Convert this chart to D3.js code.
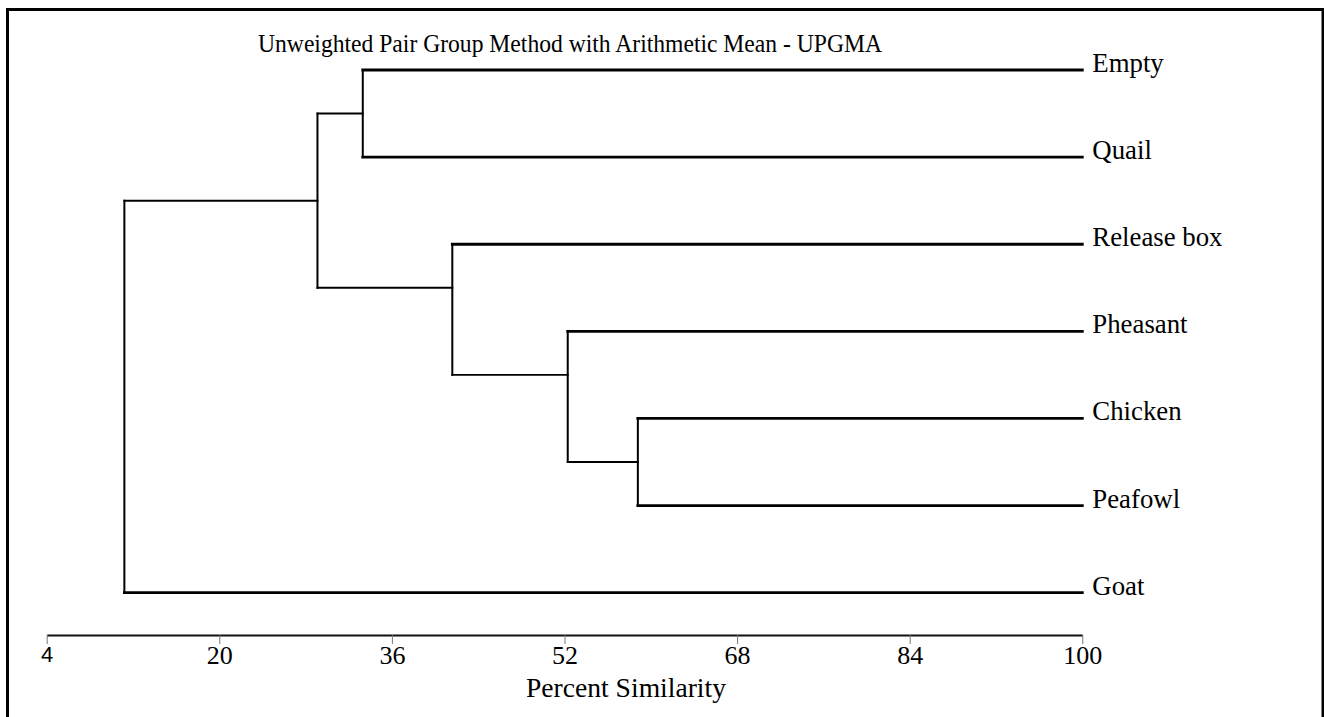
<!DOCTYPE html>
<html><head><meta charset="utf-8">
<script src="https://cdn.jsdelivr.net/npm/d3@7"></script>
<style>body{margin:0;background:#fff;overflow:hidden}</style>
</head><body>
<svg id="chart" width="1324" height="717"></svg>
<script>
// ---- data ----
const leafNames = ["Empty", "Quail", "Release box", "Pheasant", "Chicken", "Peafowl", "Goat"];
const leafSimilarity = 100;
const clusterIds = ["EQ", "CP", "PCP", "RPCP", "EQRPCP", "ALL"];
const clusterChildren = [["Empty", "Quail"], ["Chicken", "Peafowl"], ["Pheasant", "CP"], ["Release box", "PCP"], ["EQ", "RPCP"], ["EQRPCP", "Goat"]];
const clusterSimilarity = [33.3, 58.8, 52.3, 41.6, 29.1, 11.2];
const clusterJoinRow = [0.5, 4.5, 3.5, 2.5, 1.5, 3.75];
const tickValues = [4, 20, 36, 52, 68, 84, 100];
const titleText = "Unweighted Pair Group Method with Arithmetic Mean - UPGMA";
const axisTitleText = "Percent Similarity";

// ---- build tree ----
function build(id) {
  const li = leafNames.indexOf(id);
  if (li >= 0) return { name: id, sim: leafSimilarity, row: li };
  const ci = clusterIds.indexOf(id);
  return { name: id, sim: clusterSimilarity[ci], row: clusterJoinRow[ci],
           children: clusterChildren[ci].map(build) };
}
const root = d3.hierarchy(build("ALL"));

const svg = d3.select("#chart");
const serif = "'Liberation Serif','Times New Roman',serif";

const x = d3.scaleLinear().domain([4, 100]).range([46.7, 1082.3]);
const y = d3.scaleLinear().domain([0, leafNames.length - 1]).range([70, 592.7]);

// frame
svg.append("rect").attr("x", 7.5).attr("y", 9.5).attr("width", 1315.5).attr("height", 730)
  .attr("fill", "none").attr("stroke", "#000").attr("stroke-width", 3);

// title
svg.append("text").attr("x", 570).attr("y", 52).attr("text-anchor", "middle")
  .attr("textLength", 624).attr("lengthAdjust", "spacingAndGlyphs")
  .style("font-family", serif).style("font-size", "25.5px").attr("fill", "#000").text(titleText);

const g = svg.append("g").attr("stroke", "#000").attr("fill", "none").attr("stroke-linecap", "square");

// vertical connectors
root.descendants().filter(d => d.children).forEach(d => {
  const rows = d.children.map(c => c.data.row);
  g.append("line").attr("x1", x(d.data.sim)).attr("x2", x(d.data.sim))
    .attr("y1", y(d3.min(rows))).attr("y2", y(d3.max(rows))).attr("stroke-width", 2);
});
// horizontal branches
root.descendants().filter(d => d.parent).forEach(d => {
  g.append("line").attr("x1", x(d.parent.data.sim)).attr("x2", x(d.data.sim))
    .attr("y1", y(d.data.row)).attr("y2", y(d.data.row))
    .attr("stroke-width", d.children ? 1.9 : 2.8);
});

// leaf labels
svg.append("g").selectAll("text").data(root.leaves()).join("text")
  .attr("x", d => x(d.data.sim) + 10).attr("y", d => y(d.data.row) + 2)
  .style("font-family", serif).style("font-size", "26.8px").attr("fill", "#000")
  .text(d => d.data.name);

// axis
const axis = d3.axisBottom(x).tickValues(tickValues).tickSize(9).tickSizeOuter(0).tickPadding(2).tickFormat(d3.format("d"));
const ag = svg.append("g").attr("transform", "translate(0,635)").call(axis);
ag.select(".domain").attr("stroke", "#111").attr("stroke-width", 2);
ag.selectAll(".tick line").attr("stroke", "#777").attr("stroke-width", 1);
ag.selectAll(".tick text").style("font-family", serif).style("font-size", "26px").attr("fill", "#000");
ag.selectAll(".tick text").filter(d => d === tickValues[0]).style("font-family", "'Liberation Sans',Arial,sans-serif").style("font-size", "22px");

svg.append("text").attr("x", 626).attr("y", 697).attr("text-anchor", "middle")
  .style("font-family", serif).style("font-size", "27.6px").attr("fill", "#000").text(axisTitleText);
</script>
</body></html>
